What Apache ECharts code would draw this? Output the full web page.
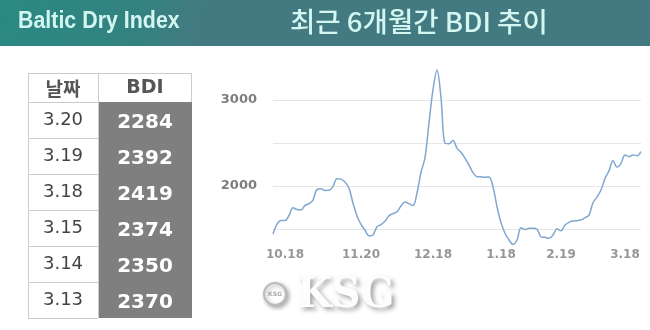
<!DOCTYPE html>
<html><head><meta charset="utf-8">
<script src="https://cdn.jsdelivr.net/npm/echarts@6/dist/echarts.min.js"></script>
<style>html,body{margin:0;padding:0;background:#fff}#c{width:650px;height:330px}</style>
</head><body><div id="c"></div>
<script>
// ---- data ----
const bdiSeries = [1442,1556,1598,1598,1657,1748,1726,1722,1774,1795,
  1837,1961,1969,1949,1950,1995,2085,2080,2046,1973,
  1800,1652,1554,1488,1420,1430,1527,1552,1590,1655,
  1679,1701,1767,1813,1795,1773,1919,2160,2330,2733,
  3120,3349,3026,2497,2492,2530,2438,2392,2322,2244,
  2155,2108,2107,2101,2106,1992,1759,1574,1450,1372,
  1320,1372,1514,1494,1508,1508,1498,1409,1403,1391,
  1430,1502,1480,1547,1577,1592,1597,1606,1632,1662,
  1805,1871,1953,2089,2176,2295,2220,2264,2360,2341,
  2360,2353,2400];
const tickLabels = ['10.18','11.20','12.18','1.18','2.19','3.18'];
const tickIndex = [3,22,40,57,72,88];
const yLabelValues = [2000,3000];
const yGridValues = [1500,2000,2500,3000];
const tableDates = ['3.20','3.19','3.18','3.15','3.14','3.13'];
const tableBDI = [2284,2392,2419,2374,2350,2370];
const headerLeft = 'Baltic Dry Index';
const headerTitle = '최근 6개월간 BDI 추이';
const tableHead = ['날짜','BDI'];

const categories = bdiSeries.map((_, i) => {
  const k = tickIndex.indexOf(i);
  return k >= 0 ? tickLabels[k] : '';
});
const yMin = 1250, yMax = 3500, yStep = 250;
const splitColors = [];
for (let v = yMin; v <= yMax; v += yStep) splitColors.push(yGridValues.includes(v) ? '#e6e6e6' : 'rgba(0,0,0,0)');

// ---- table graphic ----
const T = {left: 28, right: 192, mid: 98, top: 73, headH: 29, rowH: 36};
const tg = [];
const tBottom = T.top + T.headH + T.rowH * tableDates.length;
tg.push({type:'rect', shape:{x:T.mid, y:T.top+T.headH, width:T.right-T.mid, height:T.rowH*tableDates.length}, style:{fill:'#7f7f7f'}});
const lineStyle = {stroke:'#cdcdcd', lineWidth:1};
tg.push({type:'line', shape:{x1:T.left, y1:T.top+0.5, x2:T.right, y2:T.top+0.5}, style:lineStyle});
tg.push({type:'line', shape:{x1:T.left+0.5, y1:T.top, x2:T.left+0.5, y2:tBottom}, style:lineStyle});
tg.push({type:'line', shape:{x1:T.mid+0.5, y1:T.top, x2:T.mid+0.5, y2:T.top+T.headH}, style:lineStyle});
tg.push({type:'line', shape:{x1:T.right-0.5, y1:T.top, x2:T.right-0.5, y2:T.top+T.headH}, style:lineStyle});
for (let r = 0; r <= tableDates.length; r++) {
  const y = T.top + T.headH + r * T.rowH + 0.5;
  tg.push({type:'line', shape:{x1:T.left, y1:y, x2:T.mid, y2:y}, style:lineStyle});
}
tg.push({type:'line', shape:{x1:T.mid+0.5, y1:T.top+T.headH, x2:T.mid+0.5, y2:tBottom}, style:lineStyle});
tg.push({type:'text', x:(T.left+T.mid)/2, y:T.top+T.headH/2+1, style:{text:tableHead[0], fill:'#555', font:'bold 19px "Noto Sans CJK KR"', align:'center', verticalAlign:'middle'}});
tg.push({type:'text', x:(T.mid+T.right)/2, y:T.top+T.headH/2+1, style:{text:tableHead[1], fill:'#555', font:'bold 19px "DejaVu Sans"', align:'center', verticalAlign:'middle'}});
tableDates.forEach((d, r) => {
  const cy = T.top + T.headH + r * T.rowH + T.rowH/2;
  tg.push({type:'text', x:(T.left+T.mid)/2, y:cy, style:{text:d, fill:'#444', font:'18px "DejaVu Sans"', align:'center', verticalAlign:'middle'}});
  tg.push({type:'text', x:(T.mid+T.right)/2, y:cy+3, style:{text:String(tableBDI[r]), fill:'#fff', font:'bold 20px "DejaVu Sans"', align:'center', verticalAlign:'middle'}});
});

const chart = echarts.init(document.getElementById('c'), null, {renderer:'canvas'});
chart.setOption({
  animation: false,
  backgroundColor: '#fff',
  grid: {left: 273, right: 9, top: 57, bottom: 79.5, containLabel: false},
  xAxis: {
    type: 'category', data: categories, boundaryGap: false,
    axisLine: {show: false}, axisTick: {show: false}, splitLine: {show: false},
    axisLabel: {interval: 0, margin: -2, color: '#969696', fontFamily: 'DejaVu Sans', fontWeight: 'bold', fontSize: 12}
  },
  yAxis: {
    type: 'value', min: yMin, max: yMax, interval: yStep,
    axisLine: {show: false}, axisTick: {show: false},
    splitLine: {show: true, lineStyle: {color: splitColors, width: 1}},
    axisLabel: {margin: 16, color: '#7d7d7d', fontFamily: 'DejaVu Sans', fontWeight: 'bold', fontSize: 13,
      formatter: v => yLabelValues.includes(v) ? String(v) : ''}
  },
  series: [{
    type: 'line', data: bdiSeries, smooth: 0.35, showSymbol: false,
    lineStyle: {color: '#7fa7d0', width: 1.5}
  }],
  graphic: [
    {type:'rect', shape:{x:0, y:0, width:650, height:46}, style:{fill: new echarts.graphic.LinearGradient(0,0,0.3,1,[{offset:0,color:'#2a8983'},{offset:0.7,color:'#338280'},{offset:1,color:'#437a82'}])}},
    {type:'text', x:18, y:22, scaleX:0.93, style:{text:headerLeft, fill:'#d4f6f1', font:'bold 23px "Liberation Sans"', verticalAlign:'middle'}},
    {type:'text', x:290, y:22, scaleX:1.02, style:{text:headerTitle, fill:'#d4f6f1', font:'500 27px "Noto Sans CJK KR"', verticalAlign:'middle'}},
    ...tg,
    {type:'circle', shape:{cx:275, cy:294, r:11}, style:{fill:'#fff', stroke:'#bbb', lineWidth:2, shadowColor:'rgba(0,0,0,0.3)', shadowBlur:4, shadowOffsetX:2, shadowOffsetY:2}},
    {type:'text', x:275, y:294, style:{text:'KSG', fill:'#aaa', font:'bold 6px "DejaVu Sans"', align:'center', verticalAlign:'middle'}},
    {type:'text', x:297, y:296, scaleX:0.95, style:{text:'KSG', fill:'#fdfdfd', font:'bold 42px "DejaVu Serif"', verticalAlign:'middle', textShadowColor:'rgba(0,0,0,0.35)', textShadowBlur:4, textShadowOffsetX:3, textShadowOffsetY:3}}
  ]
});
</script></body></html>
